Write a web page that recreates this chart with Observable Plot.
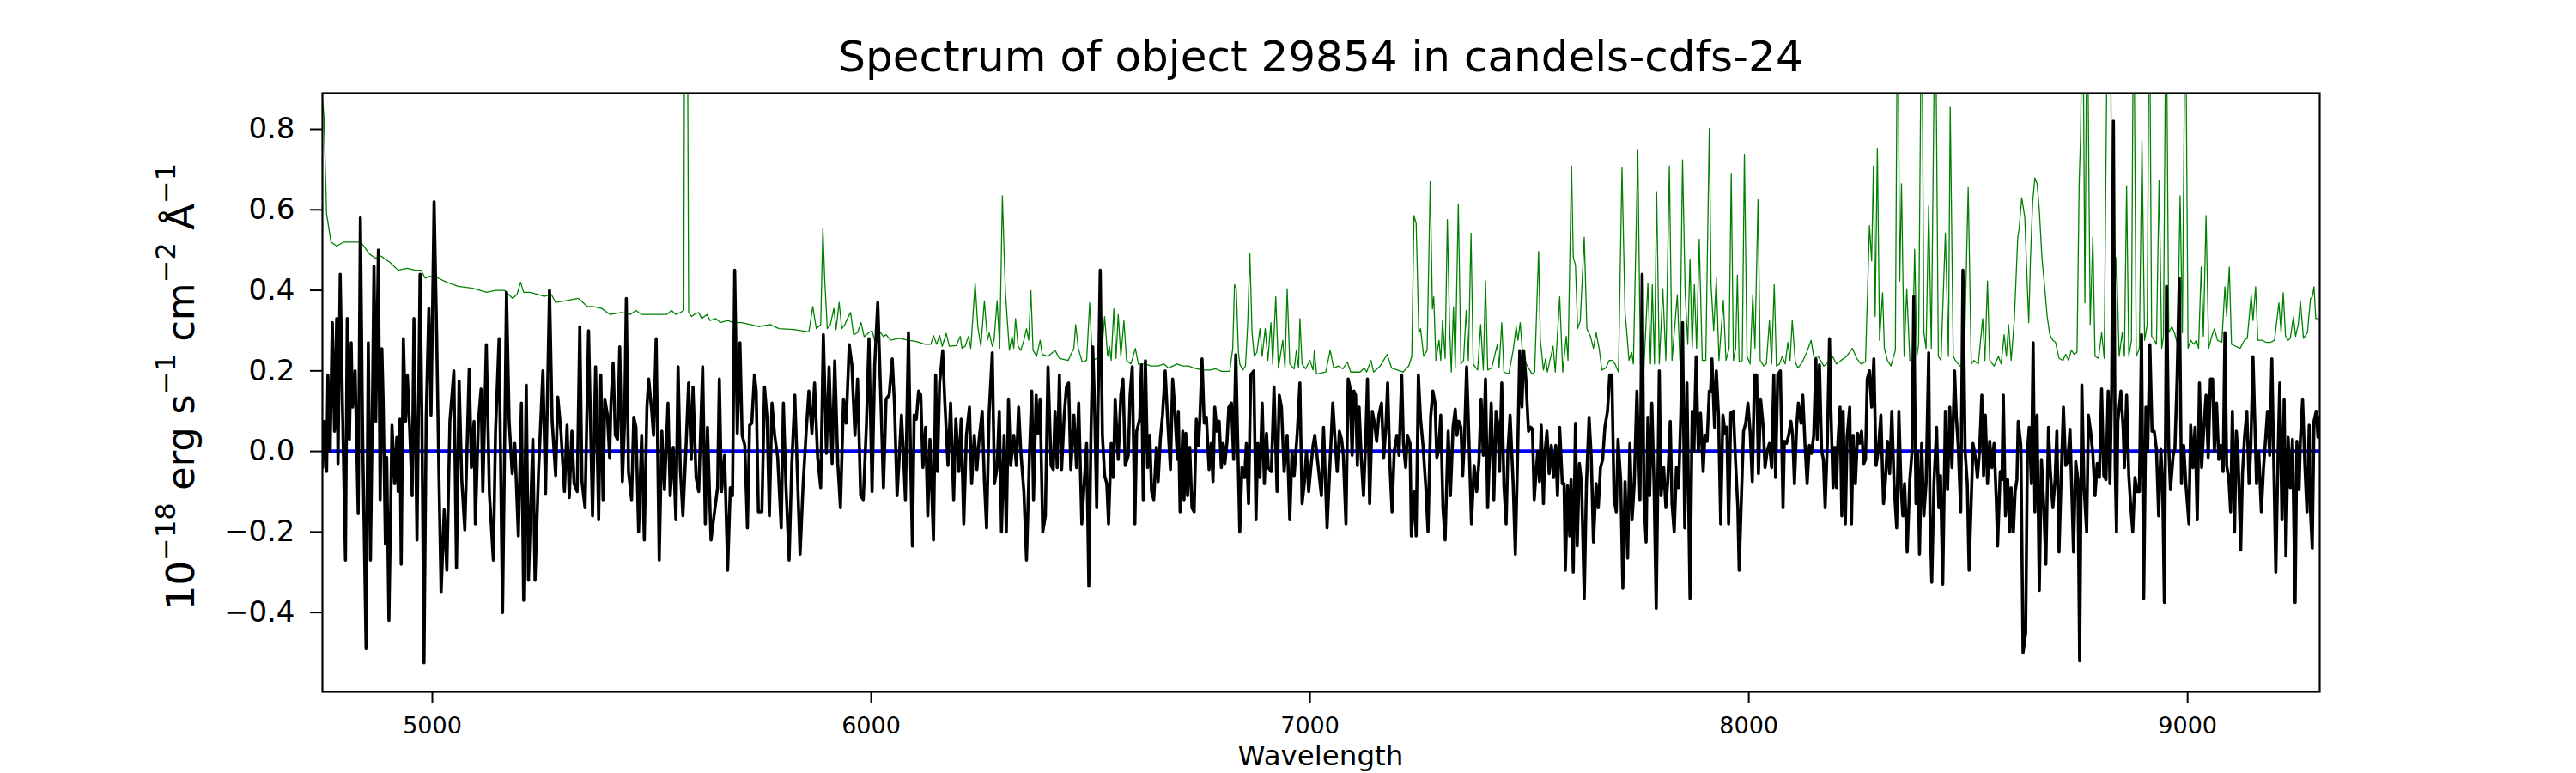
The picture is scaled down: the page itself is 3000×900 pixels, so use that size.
<!DOCTYPE html>
<html><head><meta charset="utf-8">
<script src="https://cdn.jsdelivr.net/npm/d3@7"></script>
<script src="https://cdn.jsdelivr.net/npm/@observablehq/plot@0.6"></script>
<style>body{margin:0;background:#fff} svg{display:block}</style>
</head><body><div id="chart"></div>
<script>
const titleText = "Spectrum of object 29854 in candels-cdfs-24";
const xLabel = "Wavelength";
const yLabelParts = [["10",0],["\u221218",1],[" erg s",0],["\u22121",1],[" cm",0],["\u22122",1],[" \u00c5",0],["\u22121",1]];
const xTicks = [5000,6000,7000,8000,9000];
const yTicks = [-0.4,-0.2,0,0.2,0.4,0.6,0.8];
const zeroLevel = [0];

// object flux: [wavelength, flux]
const objectSpectrum = [
[4750,-0.04],[4754,0.075],[4759,-0.05],[4762,0.19],[4767,0.0],[4772,0.32],[4777,0.05],[4782,0.33],[4785,-0.03],[4790,0.44],[4795,0.12],[4802,-0.27],[4806,0.33],[4811,0.03],[4815,0.27],[4818,0.11],[4824,0.20],[4831,-0.155],[4836,0.58],[4841,0.05],[4849,-0.49],[4854,0.27],[4859,-0.27],[4864,0.165],[4867,0.46],[4871,0.075],[4877,0.50],[4881,-0.12],[4885,0.255],[4888,0.12],[4893,-0.23],[4896,-0.015],[4901,-0.42],[4908,0.065],[4914,-0.08],[4919,0.035],[4922,-0.10],[4926,0.08],[4929,-0.28],[4934,0.28],[4939,0.075],[4943,0.19],[4948,0.065],[4954,-0.11],[4958,0.33],[4965,-0.22],[4972,0.44],[4976,0.10],[4981,-0.525],[4986,0.085],[4992,0.355],[4997,0.09],[5004,0.62],[5010,0.28],[5015,-0.06],[5020,-0.35],[5027,-0.145],[5033,-0.295],[5040,0.075],[5049,0.20],[5055,-0.29],[5061,0.175],[5067,-0.07],[5074,-0.195],[5084,0.205],[5089,-0.04],[5095,0.075],[5098,-0.18],[5105,0.075],[5111,0.155],[5115,-0.10],[5123,0.265],[5130,-0.105],[5139,-0.27],[5144,0.05],[5152,0.28],[5160,-0.40],[5169,0.395],[5175,0.075],[5182,-0.055],[5188,0.02],[5196,-0.21],[5203,0.12],[5208,-0.37],[5214,0.165],[5219,-0.32],[5229,0.03],[5234,-0.32],[5242,-0.05],[5252,0.20],[5258,-0.105],[5267,0.40],[5273,0.075],[5281,-0.06],[5286,0.135],[5293,0.05],[5301,-0.10],[5307,0.065],[5312,-0.115],[5318,0.05],[5323,-0.08],[5330,-0.10],[5336,0.31],[5341,-0.075],[5348,-0.14],[5356,0.30],[5365,-0.16],[5372,0.21],[5379,-0.17],
[5384,0.19],[5389,-0.12],[5393,0.13],[5399,0.09],[5404,-0.015],[5407,0.12],[5412,0.22],[5417,0.04],[5422,0.03],[5427,0.26],[5433,-0.075],[5438,0.07],[5442,0.38],[5447,-0.05],[5454,-0.12],[5459,0.085],[5464,0.06],[5470,-0.20],[5477,0.04],[5483,-0.22],[5489,0.11],[5493,0.18],[5500,0.10],[5504,0.04],[5510,0.28],[5517,-0.27],[5523,0.05],[5529,-0.095],[5537,0.12],[5542,-0.11],[5549,0.01],[5555,-0.17],[5560,0.21],[5565,-0.04],[5571,-0.16],[5578,0.01],[5584,0.17],[5590,-0.02],[5594,0.16],[5601,-0.065],[5607,-0.10],[5616,0.21],[5622,-0.18],[5627,0.06],[5635,-0.22],[5643,-0.15],[5650,-0.09],[5654,0.18],[5659,-0.10],[5666,-0.01],[5673,-0.295],[5679,-0.09],[5684,-0.11],[5689,0.45],[5695,0.045],[5701,0.27],[5706,0.04],[5712,0.015],[5718,-0.19],[5723,0.065],[5728,0.07],[5734,0.19],[5738,0.15],[5743,-0.15],[5751,-0.15],[5757,0.16],[5763,0.08],[5768,-0.16],[5774,0.12],[5780,0.04],[5787,-0.015],[5795,-0.19],[5800,0.12],[5806,-0.09],[5813,-0.27],[5819,-0.035],[5826,0.14],[5832,-0.06],[5838,-0.255],[5845,-0.08],[5852,0.05],[5858,0.15],[5865,0.045],[5871,0.17],[5878,-0.015],[5885,-0.09],[5891,0.29],[5898,-0.005],[5904,0.21],[5911,-0.03],[5917,0.225],[5924,-0.03],[5930,-0.14],[5937,0.13],[5943,0.07],[5950,0.265],[5956,0.215],[5963,0.04],[5969,0.18],[5976,-0.11],[5982,-0.12],[5989,0.06],[5995,0.28],[6002,-0.10],[6008,0.215],[6015,0.37],[6022,0.13],[6028,-0.09],
[6034,0.13],[6041,0.14],[6048,0.23],[6053,0.12],[6059,-0.11],[6064,-0.015],[6069,0.09],[6074,-0.015],[6078,-0.12],[6085,0.295],[6090,-0.03],[6094,-0.235],[6098,0.09],[6103,0.08],[6108,0.15],[6113,0.14],[6118,-0.04],[6124,0.06],[6129,-0.16],[6134,0.03],[6142,-0.22],[6147,0.19],[6151,-0.05],[6156,0.17],[6163,0.25],[6168,0.12],[6175,-0.035],[6181,0.12],[6188,-0.12],[6193,0.08],[6200,-0.05],[6205,0.08],[6211,-0.18],[6217,0.04],[6224,0.11],[6229,-0.08],[6235,0.04],[6241,-0.045],[6246,0.03],[6253,0.10],[6258,-0.075],[6263,-0.19],[6269,0.10],[6276,0.245],[6281,-0.08],[6287,-0.04],[6292,0.10],[6297,-0.20],[6303,0.04],[6308,-0.20],[6313,0.13],[6318,-0.035],[6325,0.04],[6331,-0.035],[6336,0.11],[6341,0.0],[6348,-0.10],[6354,-0.27],[6361,0.0],[6366,0.15],[6370,-0.12],[6376,0.14],[6380,0.045],[6385,0.13],[6391,-0.20],[6397,-0.16],[6403,0.21],[6410,-0.035],[6415,-0.045],[6419,0.10],[6424,-0.04],[6429,0.19],[6434,-0.045],[6440,0.09],[6445,0.16],[6450,0.17],[6455,-0.045],[6462,0.09],[6468,-0.04],[6473,0.12],[6480,-0.18],[6486,-0.07],[6491,0.02],[6496,-0.335],[6501,0.05],[6505,0.26],[6509,0.12],[6514,-0.14],[6517,0.11],[6522,0.45],[6527,0.04],[6532,-0.06],[6537,-0.08],[6541,-0.18],[6547,0.02],[6552,-0.065],[6556,0.13],[6563,-0.02],[6569,0.14],[6574,0.18],[6579,-0.035],[6586,-0.01],[6590,0.14],[6595,0.21],[6601,-0.18],[6605,0.05],[6612,0.08],[6616,0.215],[6620,-0.12],[6625,0.225],[6630,-0.04],[6635,0.04],[6639,-0.10],[6644,-0.12],[6650,0.01],[6654,-0.075],[6659,0.03],[6664,0.09],[6670,0.20],[6676,0.07],
[6682,-0.045],[6687,0.18],[6691,0.12],[6698,-0.02],[6700,0.10],[6704,-0.15],[6710,0.05],[6713,-0.12],[6717,0.045],[6721,-0.11],[6726,0.01],[6731,-0.14],[6736,-0.15],[6741,0.08],[6746,0.015],[6749,0.08],[6754,0.23],[6759,0.07],[6764,0.085],[6770,-0.045],[6775,0.02],[6779,-0.075],[6783,0.11],[6788,0.05],[6793,0.075],[6798,-0.04],[6802,0.02],[6806,-0.03],[6811,0.025],[6815,0.11],[6821,0.12],[6826,-0.02],[6831,0.24],[6835,0.04],[6840,-0.20],[6845,-0.04],[6851,-0.065],[6855,0.02],[6860,-0.13],[6865,0.19],[6872,0.20],[6877,-0.17],[6881,0.02],[6886,-0.065],[6891,0.12],[6896,-0.08],[6901,0.045],[6905,-0.04],[6912,-0.05],[6918,0.16],[6925,-0.10],[6930,0.14],[6935,0.11],[6941,-0.05],[6948,0.04],[6954,-0.17],[6959,0.0],[6964,-0.06],[6971,0.045],[6977,0.17],[6982,-0.13],[6987,-0.08],[6992,0.0],[6997,-0.10],[7002,-0.04],[7007,0.015],[7011,0.04],[7016,-0.01],[7022,-0.07],[7026,-0.11],[7031,0.06],[7039,-0.19],[7046,-0.02],[7052,0.12],[7057,0.03],[7062,-0.05],[7067,0.05],[7072,0.03],[7076,-0.01],[7082,-0.18],[7087,0.18],[7091,0.16],[7096,-0.01],[7100,0.15],[7104,0.14],[7108,-0.035],[7112,0.11],[7117,-0.02],[7122,-0.11],[7127,0.03],[7131,0.18],[7136,-0.13],[7142,0.10],[7147,0.07],[7152,0.025],[7157,0.09],[7163,0.12],[7168,-0.015],[7173,0.06],[7177,0.17],[7182,-0.03],[7187,-0.15],[7192,0.0],[7198,0.04],[7203,-0.01],[7209,0.19],[7213,0.02],[7218,-0.04],[7222,0.04],[7228,0.02],[7231,-0.21],[7237,-0.10],[7242,-0.21],[7247,0.19],[7252,0.08],[7258,0.01],[7264,-0.09],[7269,-0.20],[7275,0.085],[7280,0.15],[7285,0.12],[7289,-0.015],[7293,0.0],[7298,0.09],[7303,-0.14],[7308,-0.22],[7315,0.05],[7320,-0.11],
[7326,0.06],[7331,0.105],[7335,0.04],[7339,0.075],[7344,0.06],[7348,-0.06],[7352,0.03],[7357,0.21],[7362,0.04],[7368,-0.18],[7374,-0.035],[7380,-0.10],[7385,-0.025],[7390,0.13],[7395,-0.01],[7400,0.18],[7405,-0.14],[7409,-0.01],[7413,0.12],[7419,-0.12],[7424,0.10],[7428,0.07],[7432,-0.05],[7437,0.17],[7442,-0.085],[7447,-0.18],[7451,0.0],[7456,0.09],[7463,-0.08],[7468,-0.255],[7473,-0.02],[7478,0.25],[7483,0.11],[7487,0.25],[7492,0.18],[7498,0.05],[7503,0.06],[7507,0.055],[7511,-0.12],[7515,-0.055],[7519,0.0],[7523,-0.075],[7527,0.065],[7532,-0.13],[7535,-0.01],[7540,0.05],[7545,-0.055],[7550,0.015],[7555,-0.065],[7560,0.015],[7564,-0.11],[7569,0.06],[7575,-0.08],[7579,-0.08],[7582,-0.295],[7587,-0.085],[7592,-0.21],[7595,-0.07],[7600,-0.30],[7605,0.07],[7609,-0.235],[7614,-0.03],[7619,-0.08],[7625,-0.365],[7630,-0.08],[7636,0.085],[7641,-0.015],[7646,-0.225],[7652,-0.08],[7657,-0.14],[7662,-0.04],[7667,-0.02],[7672,0.06],[7678,0.10],[7683,0.19],[7688,0.19],[7693,-0.12],[7698,-0.15],[7702,0.03],[7708,-0.07],[7713,-0.34],[7718,-0.075],[7724,-0.265],[7729,0.02],[7734,-0.17],[7739,-0.08],[7745,0.15],[7752,-0.12],[7757,0.44],[7761,-0.12],[7766,-0.225],[7770,0.085],[7774,-0.11],[7779,0.12],[7784,-0.08],[7789,-0.39],[7796,0.20],[7800,-0.11],[7806,-0.04],[7811,-0.14],[7815,-0.08],[7821,0.075],[7825,-0.13],[7830,-0.20],[7835,-0.04],[7840,-0.09],[7845,0.09],[7849,0.32],[7854,-0.19],[7859,0.17],[7866,-0.365],[7871,0.10],[7875,0.0],[7880,0.235],[7885,0.0],[7890,0.095],[7896,-0.05],[7900,0.04],[7905,0.025],[7910,0.15],[7913,0.15],[7916,0.23],[7922,0.06],[7926,0.20],[7931,0.09],[7936,-0.18],[7941,0.09],[7946,0.045],[7950,0.06],[7954,-0.18],[7959,0.095],[7965,0.10],
[7970,-0.03],[7975,-0.14],[7978,-0.295],[7983,-0.12],[7988,0.05],[7993,0.07],[7998,0.12],[8003,0.05],[8008,-0.075],[8013,0.19],[8018,0.19],[8022,-0.055],[8027,0.13],[8033,0.06],[8037,-0.04],[8042,0.0],[8047,0.02],[8052,-0.04],[8057,0.19],[8061,-0.065],[8066,0.19],[8072,0.20],[8078,-0.14],[8081,0.025],[8086,0.02],[8091,0.04],[8096,0.075],[8100,0.04],[8104,-0.08],[8109,0.06],[8113,0.12],[8119,0.07],[8123,0.14],[8128,0.02],[8133,-0.08],[8138,0.015],[8143,-0.005],[8148,0.04],[8153,0.23],[8156,0.03],[8161,0.215],[8166,0.0],[8170,-0.02],[8174,-0.14],[8179,0.02],[8184,0.28],[8187,0.11],[8192,-0.09],[8196,0.01],[8200,-0.09],[8203,0.02],[8208,0.11],[8212,-0.16],[8215,0.10],[8220,-0.18],[8224,0.035],[8230,0.11],[8234,-0.18],[8238,0.04],[8243,-0.08],[8248,0.045],[8252,0.02],[8257,0.05],[8262,-0.03],[8266,-0.02],[8270,0.18],[8275,0.20],[8280,0.11],[8285,0.23],[8290,-0.035],[8295,0.0],[8301,0.09],[8307,-0.13],[8311,-0.08],[8316,0.025],[8321,-0.055],[8326,0.10],[8331,-0.08],[8337,-0.19],[8342,0.10],[8347,-0.09],[8351,-0.16],[8355,-0.08],[8361,-0.25],[8367,-0.07],[8372,0.0],[8376,0.385],[8381,-0.13],[8385,0.0],[8389,-0.255],[8394,0.02],[8399,-0.16],[8404,-0.08],[8410,0.245],[8413,-0.16],[8417,-0.325],[8422,-0.08],[8428,0.06],[8433,-0.14],[8437,-0.06],[8442,-0.33],[8448,0.10],[8453,-0.095],[8458,0.11],[8463,-0.04],[8469,0.20],[8473,0.085],[8477,0.02],[8483,-0.15],[8488,0.45],[8493,0.0],[8498,-0.08],[8502,-0.295],[8507,-0.12],[8511,0.02],[8517,-0.02],[8521,-0.065],[8526,0.005],[8531,0.14],[8535,-0.06],[8539,0.09],[8544,-0.08],[8549,0.025],[8554,-0.04],[8559,0.02],[8564,-0.12],[8567,-0.235],[8573,-0.05],[8577,-0.07],[8580,0.14],[8585,-0.16],[8590,-0.07],[8595,-0.20],
[8598,-0.09],[8603,-0.20],[8607,-0.10],[8611,-0.07],[8614,0.075],[8620,0.015],[8625,-0.50],[8631,-0.45],[8635,0.0],[8639,0.06],[8644,-0.08],[8648,0.27],[8652,-0.15],[8657,0.09],[8662,-0.345],[8667,-0.02],[8672,-0.13],[8677,-0.28],[8683,0.06],[8687,-0.045],[8693,-0.14],[8698,-0.07],[8702,0.05],[8707,-0.25],[8712,-0.06],[8717,0.11],[8722,-0.035],[8727,-0.025],[8732,0.055],[8736,-0.095],[8740,-0.25],[8745,-0.025],[8750,-0.07],[8754,-0.52],[8759,0.165],[8764,-0.09],[8770,-0.20],[8774,0.09],[8779,0.05],[8784,-0.005],[8789,-0.11],[8794,-0.03],[8799,-0.065],[8804,0.155],[8809,-0.06],[8814,-0.07],[8819,0.15],[8823,-0.08],[8827,0.16],[8831,0.82],[8835,-0.04],[8838,-0.20],[8841,0.075],[8848,0.15],[8853,0.06],[8856,-0.04],[8861,0.14],[8866,-0.06],[8870,-0.13],[8875,-0.20],[8880,-0.065],[8885,-0.10],[8890,-0.10],[8895,0.29],[8900,-0.365],[8905,0.11],[8909,0.0],[8914,0.265],[8919,0.05],[8924,0.05],[8929,0.005],[8934,-0.16],[8939,0.005],[8943,-0.08],[8947,-0.375],[8952,0.41],[8957,0.01],[8961,-0.095],[8967,-0.01],[8971,0.005],[8976,0.18],[8981,0.43],[8986,-0.08],[8991,0.015],[8996,-0.08],[9003,-0.18],[9007,0.065],[9012,-0.04],[9017,0.06],[9022,-0.17],[9027,0.17],[9032,-0.04],[9037,0.06],[9042,0.14],[9047,-0.015],[9052,0.18],[9057,0.18],[9061,0.0],[9066,0.12],[9071,-0.02],[9076,0.015],[9081,-0.05],[9085,0.295],[9089,-0.035],[9094,-0.07],[9098,-0.15],[9102,0.10],[9107,-0.20],[9111,0.05],[9115,-0.01],[9121,-0.245],[9125,-0.055],[9130,0.04],[9135,0.10],[9140,-0.08],[9144,0.01],[9149,0.235],[9153,0.08],[9157,-0.08],[9162,0.0],[9168,-0.15],[9173,-0.04],[9177,0.02],[9182,0.10],[9187,-0.01],[9192,0.23],[9196,-0.01],[9201,-0.30],[9206,-0.01],[9210,0.17],[9215,-0.17],[9220,0.13],[9224,-0.26],[9229,0.035],[9234,-0.09],[9239,0.03],[9245,-0.375],[9249,0.025],[9254,-0.095],[9257,0.03],[9262,0.13],[9267,-0.03],[9272,-0.15],[9277,0.065],[9280,-0.15],[9284,-0.24],[9288,0.075],[9293,0.10],[9297,0.035],[9300,0.085]
];

// sky / noise spectrum: [wavelength, flux]
const skySpectrum = [
[4750,0.87],[4753,0.83],[4759,0.59],[4769,0.52],[4782,0.51],[4798,0.52],[4824,0.52],[4837,0.52],[4857,0.49],[4870,0.48],[4883,0.485],[4903,0.47],[4922,0.45],[4942,0.455],[4961,0.45],[4974,0.45],[4984,0.43],[4994,0.435],[5014,0.43],[5033,0.42],[5059,0.41],[5092,0.405],[5124,0.395],[5144,0.40],[5164,0.40],[5183,0.38],[5193,0.39],[5201,0.42],[5208,0.395],[5222,0.395],[5239,0.39],[5255,0.385],[5271,0.39],[5281,0.37],[5307,0.375],[5333,0.38],[5353,0.36],
[5366,0.36],[5386,0.355],[5405,0.34],[5431,0.345],[5451,0.34],[5464,0.35],[5477,0.34],[5496,0.34],[5523,0.34],[5534,0.34],[5545,0.35],[5555,0.34],[5565,0.345],[5573,0.35],[5575,1.2],[5581,1.2],[5584,0.345],[5591,0.335],[5597,0.34],[5607,0.345],[5614,0.33],[5626,0.34],[5633,0.325],[5646,0.33],[5656,0.32],[5673,0.325],[5686,0.32],[5705,0.32],[5725,0.315],[5744,0.31],[5770,0.315],[5790,0.305],[5823,0.303],[5858,0.297],[5867,0.36],[5875,0.305],[5885,0.315],[5890,0.555],[5894,0.43],[5900,0.305],[5907,0.315],[5915,0.355],[5920,0.303],[5927,0.37],[5933,0.305],[5940,0.315],[5946,0.33],[5953,0.345],[5960,0.29],[5969,0.295],[5977,0.32],[5984,0.285],[5995,0.295],[6002,0.30],[6008,0.275],[6018,0.30],[6028,0.285],
[6034,0.29],[6044,0.276],[6064,0.281],[6084,0.276],[6103,0.273],[6123,0.266],[6136,0.266],[6142,0.288],[6149,0.266],[6156,0.288],[6162,0.261],[6171,0.293],[6178,0.261],[6194,0.263],[6203,0.286],[6207,0.256],[6214,0.261],[6222,0.286],[6227,0.256],[6237,0.418],[6243,0.31],[6250,0.261],[6258,0.374],[6265,0.276],[6269,0.295],[6276,0.261],[6280,0.276],[6287,0.374],[6293,0.256],[6299,0.635],[6303,0.492],[6306,0.394],[6315,0.251],[6321,0.286],[6325,0.256],[6329,0.330],[6335,0.261],[6341,0.251],[6348,0.276],[6354,0.305],[6359,0.276],[6364,0.399],[6369,0.251],[6377,0.236],[6385,0.276],[6390,0.241],[6403,0.236],[6419,0.251],[6429,0.231],[6449,0.226],[6462,0.256],[6466,0.315],[6472,0.256],[6481,0.222],[6491,0.226],[6498,0.369],[6504,0.226],[6514,0.231],[6524,0.226],[6532,0.335],[6539,0.236],[6543,0.261],[6547,0.226],[6553,0.354],[6558,0.231],[6563,0.340],[6569,0.236],[6576,0.325],[6582,0.226],[6592,0.217],[6602,0.256],[6609,0.217],[6625,0.217],[6638,0.212],[6654,0.212],[6667,0.217],[6677,0.207],
[6697,0.217],[6710,0.212],[6723,0.212],[6736,0.207],[6755,0.202],[6772,0.202],[6785,0.205],[6798,0.199],[6817,0.199],[6824,0.256],[6828,0.414],[6832,0.404],[6837,0.246],[6840,0.217],[6847,0.202],[6853,0.212],[6858,0.315],[6863,0.492],[6868,0.295],[6873,0.236],[6879,0.246],[6886,0.305],[6891,0.236],[6898,0.305],[6904,0.226],[6911,0.320],[6915,0.217],[6922,0.384],[6928,0.207],[6938,0.276],[6943,0.207],[6948,0.404],[6954,0.217],[6964,0.205],[6969,0.251],[6974,0.207],[6977,0.330],[6982,0.217],[6990,0.205],[7000,0.226],[7007,0.202],[7010,0.251],[7015,0.192],[7036,0.197],[7046,0.251],[7054,0.207],[7065,0.212],[7075,0.205],[7085,0.222],[7093,0.197],[7114,0.197],[7124,0.207],[7129,0.197],[7139,0.226],[7145,0.197],[7160,0.212],[7176,0.241],[7186,0.207],[7199,0.202],[7212,0.197],[7225,0.212],[7232,0.236],[7237,0.586],[7242,0.566],[7248,0.295],[7252,0.305],[7259,0.236],[7267,0.251],[7274,0.670],[7279,0.354],[7282,0.384],[7287,0.226],[7294,0.276],[7298,0.226],[7302,0.325],[7308,0.231],[7313,0.576],[7318,0.315],[7322,0.197],
[7327,0.359],[7331,0.207],[7338,0.615],[7344,0.217],[7350,0.226],[7356,0.350],[7361,0.226],[7367,0.542],[7372,0.217],[7382,0.202],[7389,0.315],[7395,0.202],[7400,0.423],[7405,0.202],[7414,0.207],[7427,0.266],[7431,0.207],[7437,0.320],[7442,0.197],[7453,0.192],[7463,0.251],[7470,0.310],[7474,0.276],[7479,0.320],[7485,0.236],[7493,0.217],[7506,0.192],[7512,0.197],[7521,0.497],[7525,0.276],[7532,0.202],[7537,0.231],[7541,0.197],[7554,0.261],[7559,0.197],[7569,0.384],[7576,0.197],[7584,0.286],[7588,0.226],[7596,0.709],[7600,0.482],[7605,0.463],[7610,0.305],[7616,0.325],[7625,0.532],[7631,0.305],[7639,0.286],[7646,0.256],[7652,0.295],[7659,0.256],[7665,0.202],[7674,0.207],[7682,0.226],[7690,0.226],[7695,0.217],[7703,0.197],[7711,0.704],[7718,0.345],[7722,0.295],[7727,0.226],[7733,0.246],[7737,0.217],[7747,0.748],[7753,0.217],[7761,0.207],[7770,0.418],[7776,0.217],[7780,0.414],[7785,0.217],[7790,0.645],[7796,0.217],[7804,0.404],[7811,0.226],[7819,0.709],[7825,0.226],[7837,0.389],[7843,0.226],[7849,0.724],[7855,0.394],[7861,0.266],[7866,0.478],[7871,0.256],[7876,0.414],[7881,0.256],[7887,0.527],[7894,0.226],[7902,0.226],[7910,0.802],[7914,0.415],[7920,0.30],[7926,0.43],[7932,0.226],[7942,0.375],[7948,0.226],[7955,0.256],[7960,0.689],
[7965,0.226],[7970,0.256],[7974,0.438],[7978,0.222],[7985,0.226],[7990,0.738],[7996,0.236],[8003,0.217],[8009,0.389],[8014,0.256],[8021,0.625],[8026,0.226],[8034,0.212],[8040,0.217],[8047,0.325],[8052,0.217],[8058,0.414],[8063,0.212],[8070,0.217],[8076,0.236],[8083,0.217],[8089,0.271],[8094,0.226],[8099,0.325],[8106,0.222],[8112,0.207],[8122,0.222],[8132,0.246],[8137,0.261],[8142,0.276],[8148,0.236],[8158,0.236],[8171,0.212],[8177,0.217],[8191,0.236],[8200,0.217],[8210,0.226],[8223,0.236],[8236,0.256],[8246,0.231],[8256,0.217],[8266,0.222],[8275,0.561],[8280,0.473],[8284,0.709],[8288,0.335],[8293,0.753],[8298,0.276],[8305,0.394],[8309,0.256],[8316,0.226],[8324,0.212],[8334,0.251],[8339,1.2],[8344,0.423],[8348,0.665],[8354,0.236],[8360,0.404],[8367,0.226],[8373,0.226],[8378,0.502],[8383,0.236],[8387,0.266],[8394,1.2],[8399,0.295],[8404,0.256],[8410,0.610],[8416,0.256],[8425,1.2],[8432,0.236],[8438,0.226],[8448,0.542],[8455,0.236],[8459,0.857],[8466,0.236],[8471,0.226],[8481,0.212],[8491,0.222],[8500,0.655],[8507,0.217],[8513,0.226],[8523,0.217],[8533,0.330],[8538,0.226],[8544,0.423],[8549,0.226],[8559,0.212],[8569,0.236],[8575,0.217],[8582,0.290],[8587,0.236],[8592,0.315],[8598,0.226],[8605,0.325],[8613,0.532],
[8616,0.551],[8622,0.630],[8629,0.581],[8634,0.433],[8638,0.320],[8642,0.482],[8647,0.620],[8652,0.679],[8657,0.665],[8662,0.601],[8668,0.482],[8675,0.399],[8680,0.335],[8686,0.290],[8693,0.276],[8699,0.271],[8707,0.231],[8716,0.226],[8722,0.241],[8729,0.226],[8735,0.251],[8742,0.241],[8748,0.246],[8753,0.670],[8756,0.778],[8761,1.2],[8766,0.369],[8771,1.2],[8778,0.315],[8784,0.532],[8789,0.236],[8797,0.231],[8804,0.295],[8810,0.231],[8818,1.2],[8823,1.2],[8830,0.236],[8838,0.482],[8844,0.236],[8851,0.295],[8856,0.236],[8861,0.660],[8866,0.236],[8872,0.276],[8877,1.2],[8883,0.236],[8890,0.256],[8896,0.773],[8902,0.276],[8908,0.315],[8913,1.2],[8918,0.286],[8924,0.276],[8929,0.266],[8935,0.674],[8941,0.256],[8945,0.286],[8951,1.2],[8957,0.295],[8964,0.310],[8970,0.295],[8977,0.266],[8983,0.635],[8988,0.295],[8995,1.2],[9001,0.256],[9007,0.276],[9014,0.266],[9020,0.276],[9025,0.256],[9031,0.458],[9036,0.286],[9042,0.586],[9048,0.256],[9055,0.286],[9061,0.305],[9068,0.276],[9078,0.271],[9085,0.409],[9089,0.335],[9095,0.458],[9100,0.266],[9110,0.261],[9120,0.256],[9129,0.276],[9136,0.281],[9145,0.389],[9149,0.325],[9155,0.409],[9160,0.276],[9169,0.276],[9179,0.271],[9189,0.271],[9198,0.276],[9208,0.369],[9213,0.295],[9218,0.394],[9223,0.286],[9229,0.276],[9234,0.281],[9241,0.335],[9246,0.286],[9252,0.315],[9257,0.374],[9264,0.281],[9273,0.295],[9280,0.379],[9284,0.384],[9288,0.409],[9292,0.330],[9296,0.330],[9300,0.325]
];

const W = 3000, H = 900;
const plot = Plot.plot({
  width: W, height: H,
  marginLeft: 375, marginRight: 299, marginTop: 108, marginBottom: 95,
  style: {fontFamily: "DejaVu Sans", background: "white", color: "black", overflow: "visible"},
  x: {domain: [4749.5, 9301]},
  y: {domain: [-0.597, 0.8896]},
  marks: [
    Plot.line(skySpectrum, {x: d => d[0], y: d => d[1], stroke: "green", strokeWidth: 1.3, clip: true}),
    Plot.ruleY(zeroLevel, {stroke: "blue", strokeWidth: 4.5}),
    Plot.line(objectSpectrum, {x: d => d[0], y: d => d[1], stroke: "black", strokeWidth: 3.6, clip: true}),
    Plot.frame({stroke: "black", strokeWidth: 2.2}),
    Plot.axisX({ticks: xTicks, tickSize: 13, tickPadding: 16, fontSize: 27, strokeWidth: 2, label: null, tickFormat: d => String(d)}),
    Plot.axisY({ticks: yTicks, tickSize: 14, tickPadding: 18, fontSize: 34, strokeWidth: 2, label: null, tickFormat: d => d.toFixed(1).replace("-", "\u2212")})
  ]
});
document.getElementById("chart").appendChild(plot);

const svg = d3.select(plot);
svg.append("text").attr("x", 1538).attr("y", 82.5).attr("text-anchor", "middle")
  .attr("font-size", 50).attr("fill", "black").text(titleText);
svg.append("text").attr("x", 1538).attr("y", 891).attr("text-anchor", "middle")
  .attr("font-size", 32.5).attr("fill", "black").text(xLabel);
const yl = svg.append("text").attr("transform", "translate(226,450) rotate(-90)")
  .attr("text-anchor", "middle").attr("font-size", 45).attr("fill", "black");
let prev = 0;
yLabelParts.forEach(([t, sup]) => {
  const off = sup ? -22 : 0;
  yl.append("tspan").attr("dy", off - prev).attr("font-size", sup ? 32 : 45).text(t);
  prev = off;
});
</script>
</body></html>
